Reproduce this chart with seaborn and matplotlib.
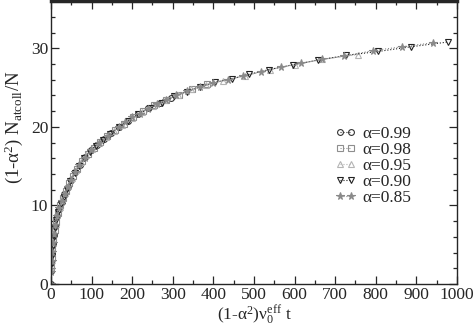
import matplotlib
matplotlib.use("Agg")
import matplotlib.pyplot as plt
import seaborn as sns
import pandas as pd
from matplotlib.ticker import MultipleLocator

# ---- data ----
labels = ["α=0.99", "α=0.98", "α=0.95", "α=0.90", "α=0.85"]

x099 = [0, 0.4, 1.2, 2.5, 4.5, 7, 10.5, 15, 20, 26, 33, 41, 50, 60, 71, 84, 98, 113, 130, 148, 168, 190, 214, 240, 268, 296]
y099 = [0, 1.7, 2.7, 3.9, 5.1, 6.2, 7.4, 8.6, 9.6, 10.5, 11.4, 12.3, 13.3, 14.3, 15.2, 16.2, 17.0, 17.7, 18.5, 19.2, 20.0, 20.8, 21.6, 22.4, 23.1, 23.7]

x098 = [0.8, 1.8, 3.5, 5.8, 8.8, 12.5, 17, 23, 29, 37, 45, 55, 65, 77, 91, 105, 121, 139, 158, 179, 202, 227, 254, 283, 315, 348, 385]
y098 = [2.3, 3.3, 4.6, 5.7, 6.9, 7.9, 9.0, 10.1, 10.9, 11.9, 12.8, 13.8, 14.7, 15.7, 16.6, 17.3, 18.1, 18.8, 19.6, 20.4, 21.2, 22.0, 22.8, 23.4, 24.1, 24.8, 25.4]

x095 = [0.6, 1.5, 3, 5, 8, 11.5, 16, 21, 28, 35, 43, 52, 62, 74, 87, 101, 117, 135, 155, 176, 199, 224, 251, 280, 312, 346, 383, 424, 478, 540, 600, 668, 756]
y095 = [2.0, 3.0, 4.3, 5.3, 6.6, 7.7, 8.8, 9.8, 10.8, 11.6, 12.5, 13.5, 14.5, 15.5, 16.4, 17.2, 17.9, 18.7, 19.5, 20.3, 21.1, 21.9, 22.7, 23.4, 24.1, 24.8, 25.3, 25.9, 26.5, 27.3, 27.9, 28.6, 29.2]

x090 = [1, 2.2, 4, 6.5, 9.5, 13.5, 18, 24, 31, 39, 48, 58, 69, 81, 95, 110, 127, 146, 167, 190, 215, 243, 273, 304, 336, 368, 405, 445, 488, 538, 595, 657, 727, 806, 887, 977]
y090 = [2.5, 3.6, 4.8, 6.0, 7.1, 8.1, 9.2, 10.2, 11.1, 12.1, 13.1, 14.1, 15.0, 16.0, 16.8, 17.6, 18.3, 19.1, 20.0, 20.8, 21.6, 22.4, 23.1, 23.9, 24.5, 25.1, 25.7, 26.1, 26.7, 27.3, 27.9, 28.5, 29.1, 29.6, 30.2, 30.8]

x085 = [0, 0.3, 1.4, 2.8, 4.8, 7.5, 11, 15.5, 20.5, 27, 34.4, 41, 49, 59, 70, 83, 99, 118, 141, 168, 183, 200, 218, 238, 260, 283, 308, 336, 366, 399, 435, 474, 517, 566, 616, 668, 722, 792, 865, 940]
y085 = [0, 1.5, 2.9, 4.1, 5.2, 6.4, 7.5, 8.7, 9.7, 10.6, 11.5, 12.3, 13.2, 14.2, 15.2, 16.1, 17.0, 17.9, 18.9, 20.0, 20.6, 21.2, 21.7, 22.3, 22.9, 23.4, 24.0, 24.6, 25.1, 25.6, 26.0, 26.5, 27.0, 27.6, 28.1, 28.6, 29.0, 29.7, 30.2, 30.7]

xs = [x099, x098, x095, x090, x085]
ys = [y099, y098, y095, y090, y085]
xticks = [0, 100, 200, 300, 400, 500, 600, 700, 800, 900, 1000]
yticks = [0, 10, 20, 30]

# ---- styling ----
sns.set_style("ticks")
plt.rcParams["font.family"] = ["Liberation Serif", "DejaVu Serif"]
plt.rcParams["mathtext.fontset"] = "custom"
plt.rcParams["mathtext.rm"] = "Liberation Serif"
plt.rcParams["mathtext.it"] = "Liberation Serif:italic"
plt.rcParams["mathtext.bf"] = "Liberation Serif:bold"

colors = ["#333333", "#8e8e8e", "#b4b4b4", "#222222", "#8a8a8a"]
markers = ["o", "s", "^", "v", "*"]
faces = ["none", "none", "none", "none", "#8a8a8a"]
msizes = [4.2, 4.2, 4.6, 4.6, 5.5]

fig = plt.figure(figsize=(4.74, 3.30), dpi=100)
ax = fig.add_axes([0.1076, 0.1394, 0.8565, 0.857])

for i in range(5):
    df = pd.DataFrame({"x": xs[i], "y": ys[i]})
    sns.lineplot(data=df, x="x", y="y", ax=ax, color=colors[i], linestyle=":",
                 linewidth=0.8, marker=markers[i], markersize=msizes[i],
                 markerfacecolor=faces[i], markeredgecolor=colors[i],
                 markeredgewidth=0.8, label=labels[i], sort=False,
                 estimator=None)

ax.set_xlim(0, 1000)
ax.set_ylim(0, 36)
ax.set_xticks(xticks)
ax.set_yticks(yticks)
ax.xaxis.set_minor_locator(MultipleLocator(50))
ax.yaxis.set_minor_locator(MultipleLocator(2))
ax.tick_params(axis="both", which="both", direction="in", top=True, right=True,
               labelsize=12.5, pad=2, width=0.9)
ax.tick_params(which="major", length=6)
ax.tick_params(which="minor", length=3)
for sp in ax.spines.values():
    sp.set_linewidth(1.0)
ax.spines["top"].set_linewidth(2.5)

ax.set_xlabel(r"(1-α$^2$)ν$_0^{\mathrm{eff}}$ t", fontsize=12.5, labelpad=0)
ax.set_ylabel(r"(1-α$^2$) N$_{\mathrm{atcoll}}$/N", fontsize=13.5, labelpad=2)
ax.yaxis.set_label_coords(-0.064, 0.555)

leg = ax.legend(loc="upper left", bbox_to_anchor=(0.70, 0.56), frameon=False,
                numpoints=2, handlelength=1.2, handletextpad=0.35,
                labelspacing=0.0, borderpad=0, borderaxespad=0, fontsize=12.5)

fig.savefig("out.png", dpi=100)
